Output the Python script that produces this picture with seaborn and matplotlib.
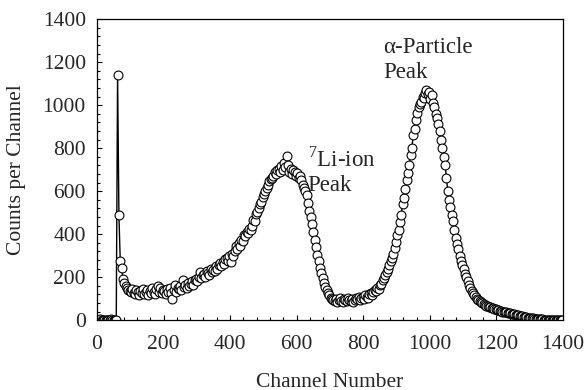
import numpy as np
import pandas as pd
import matplotlib
matplotlib.use("Agg")
import matplotlib.pyplot as plt
from matplotlib.ticker import MultipleLocator
import seaborn as sns

# channel grid (every 4th channel)
channels = np.arange(2, 1400, 4)

# counts per channel, 25 values per 100 channels
counts = [
    3, 2, 4, 1, 3, 2, 0, 3, 2, 1, 4, 2, 3, 1, 2, 1140, 490, 275, 245, 190, 175, 160, 150, 140, 135,
    130, 145, 125, 120, 140, 130, 115, 135, 125, 145, 120, 130, 140, 118, 135, 125, 150, 130, 120, 145, 160, 130, 150, 125, 140,
    135, 120, 145, 130, 150, 125, 100, 140, 165, 130, 150, 145, 160, 140, 185, 155, 165, 150, 175, 160, 170, 180, 165, 185, 190,
    180, 200, 225, 195, 210, 215, 200, 230, 220, 210, 240, 225, 235, 230, 250, 240, 255, 265, 250, 270, 260, 285, 290, 275, 300,
    270, 310, 300, 320, 345, 330, 360, 345, 375, 370, 395, 390, 410, 405, 425, 420, 440, 465, 460, 495, 505, 520, 540, 550, 575,
    585, 600, 615, 630, 645, 655, 660, 670, 690, 680, 700, 705, 690, 715, 700, 730, 710, 765, 720, 690, 705, 680, 700, 690, 670,
    685, 660, 670, 650, 630, 615, 600, 580, 545, 510, 480, 445, 410, 375, 340, 305, 275, 245, 220, 195, 175, 155, 140, 125, 115,
    105, 100, 95, 90, 100, 85, 95, 105, 90, 85, 100, 95, 88, 105, 95, 90, 100, 85, 95, 105, 100, 110, 95, 105, 110,
    100, 115, 110, 105, 120, 125, 115, 130, 140, 135, 150, 145, 165, 170, 185, 195, 210, 225, 240, 255, 275, 290, 310, 335, 365,
    395, 420, 455, 490, 540, 570, 610, 650, 685, 720, 770, 800, 860, 890, 930, 965, 990, 1005, 1015, 1040, 1035, 1055, 1070, 1050, 1060,
    1030, 1045, 1010, 990, 960, 940, 910, 880, 840, 800, 760, 720, 660, 600, 560, 525, 490, 460, 420, 380, 355, 330, 300, 275, 255,
    240, 215, 200, 180, 165, 150, 135, 125, 115, 110, 100, 95, 88, 85, 80, 75, 72, 68, 65, 62, 60, 58, 55, 52, 50,
    48, 46, 45, 42, 40, 40, 38, 36, 35, 33, 32, 30, 28, 27, 25, 24, 22, 20, 19, 18, 16, 15, 14, 12, 11,
    10, 9, 8, 7, 6, 6, 5, 5, 4, 4, 3, 3, 3, 2, 2, 2, 2, 1, 1, 1, 1, 1, 0, 0, 0,
]

df = pd.DataFrame({"channel": channels, "counts": counts})

sns.set_style("ticks")
plt.rcParams["font.family"] = ["Liberation Serif", "DejaVu Serif"]
plt.rcParams["mathtext.fontset"] = "custom"
plt.rcParams["mathtext.rm"] = "Liberation Serif"
plt.rcParams["xtick.direction"] = "in"
plt.rcParams["ytick.direction"] = "in"

fig = plt.figure(figsize=(5.84, 3.90), dpi=100)
ax = fig.add_axes([0.166, 0.179, 0.798, 0.772])

sns.lineplot(data=df, x="channel", y="counts", ax=ax, color="black", lw=1.0,
             marker="o", markersize=6.4, markerfacecolor="white",
             markeredgecolor="black", markeredgewidth=0.8)

ax.set_xlim(0, 1400)
ax.set_ylim(0, 1400)
ax.xaxis.set_major_locator(MultipleLocator(200))
ax.yaxis.set_major_locator(MultipleLocator(200))
ax.xaxis.set_minor_locator(MultipleLocator(40))
ax.yaxis.set_minor_locator(MultipleLocator(40))
ax.tick_params(which="major", length=3.5, width=0.8, labelsize=15.5, color="black")
ax.tick_params(axis="x", which="major", pad=11)
ax.tick_params(axis="y", which="major", pad=8)
ax.tick_params(which="minor", length=2, width=0.8, color="black")
for s in ax.spines.values():
    s.set_linewidth(0.9)
    s.set_color("black")

ax.set_xlabel("Channel Number", fontsize=15.5, labelpad=13)
ax.set_ylabel("Counts per Channel", fontsize=15.5, labelpad=12)

ax.text(633, 805, "$^{7}$Li-ion\nPeak", fontsize=16.5, ha="left", va="top", linespacing=1.2)
ax.text(859, 1315, "\u03b1-Particle\nPeak", fontsize=16.5, ha="left", va="top", linespacing=1.2)

fig.savefig("out.png", dpi=100)
